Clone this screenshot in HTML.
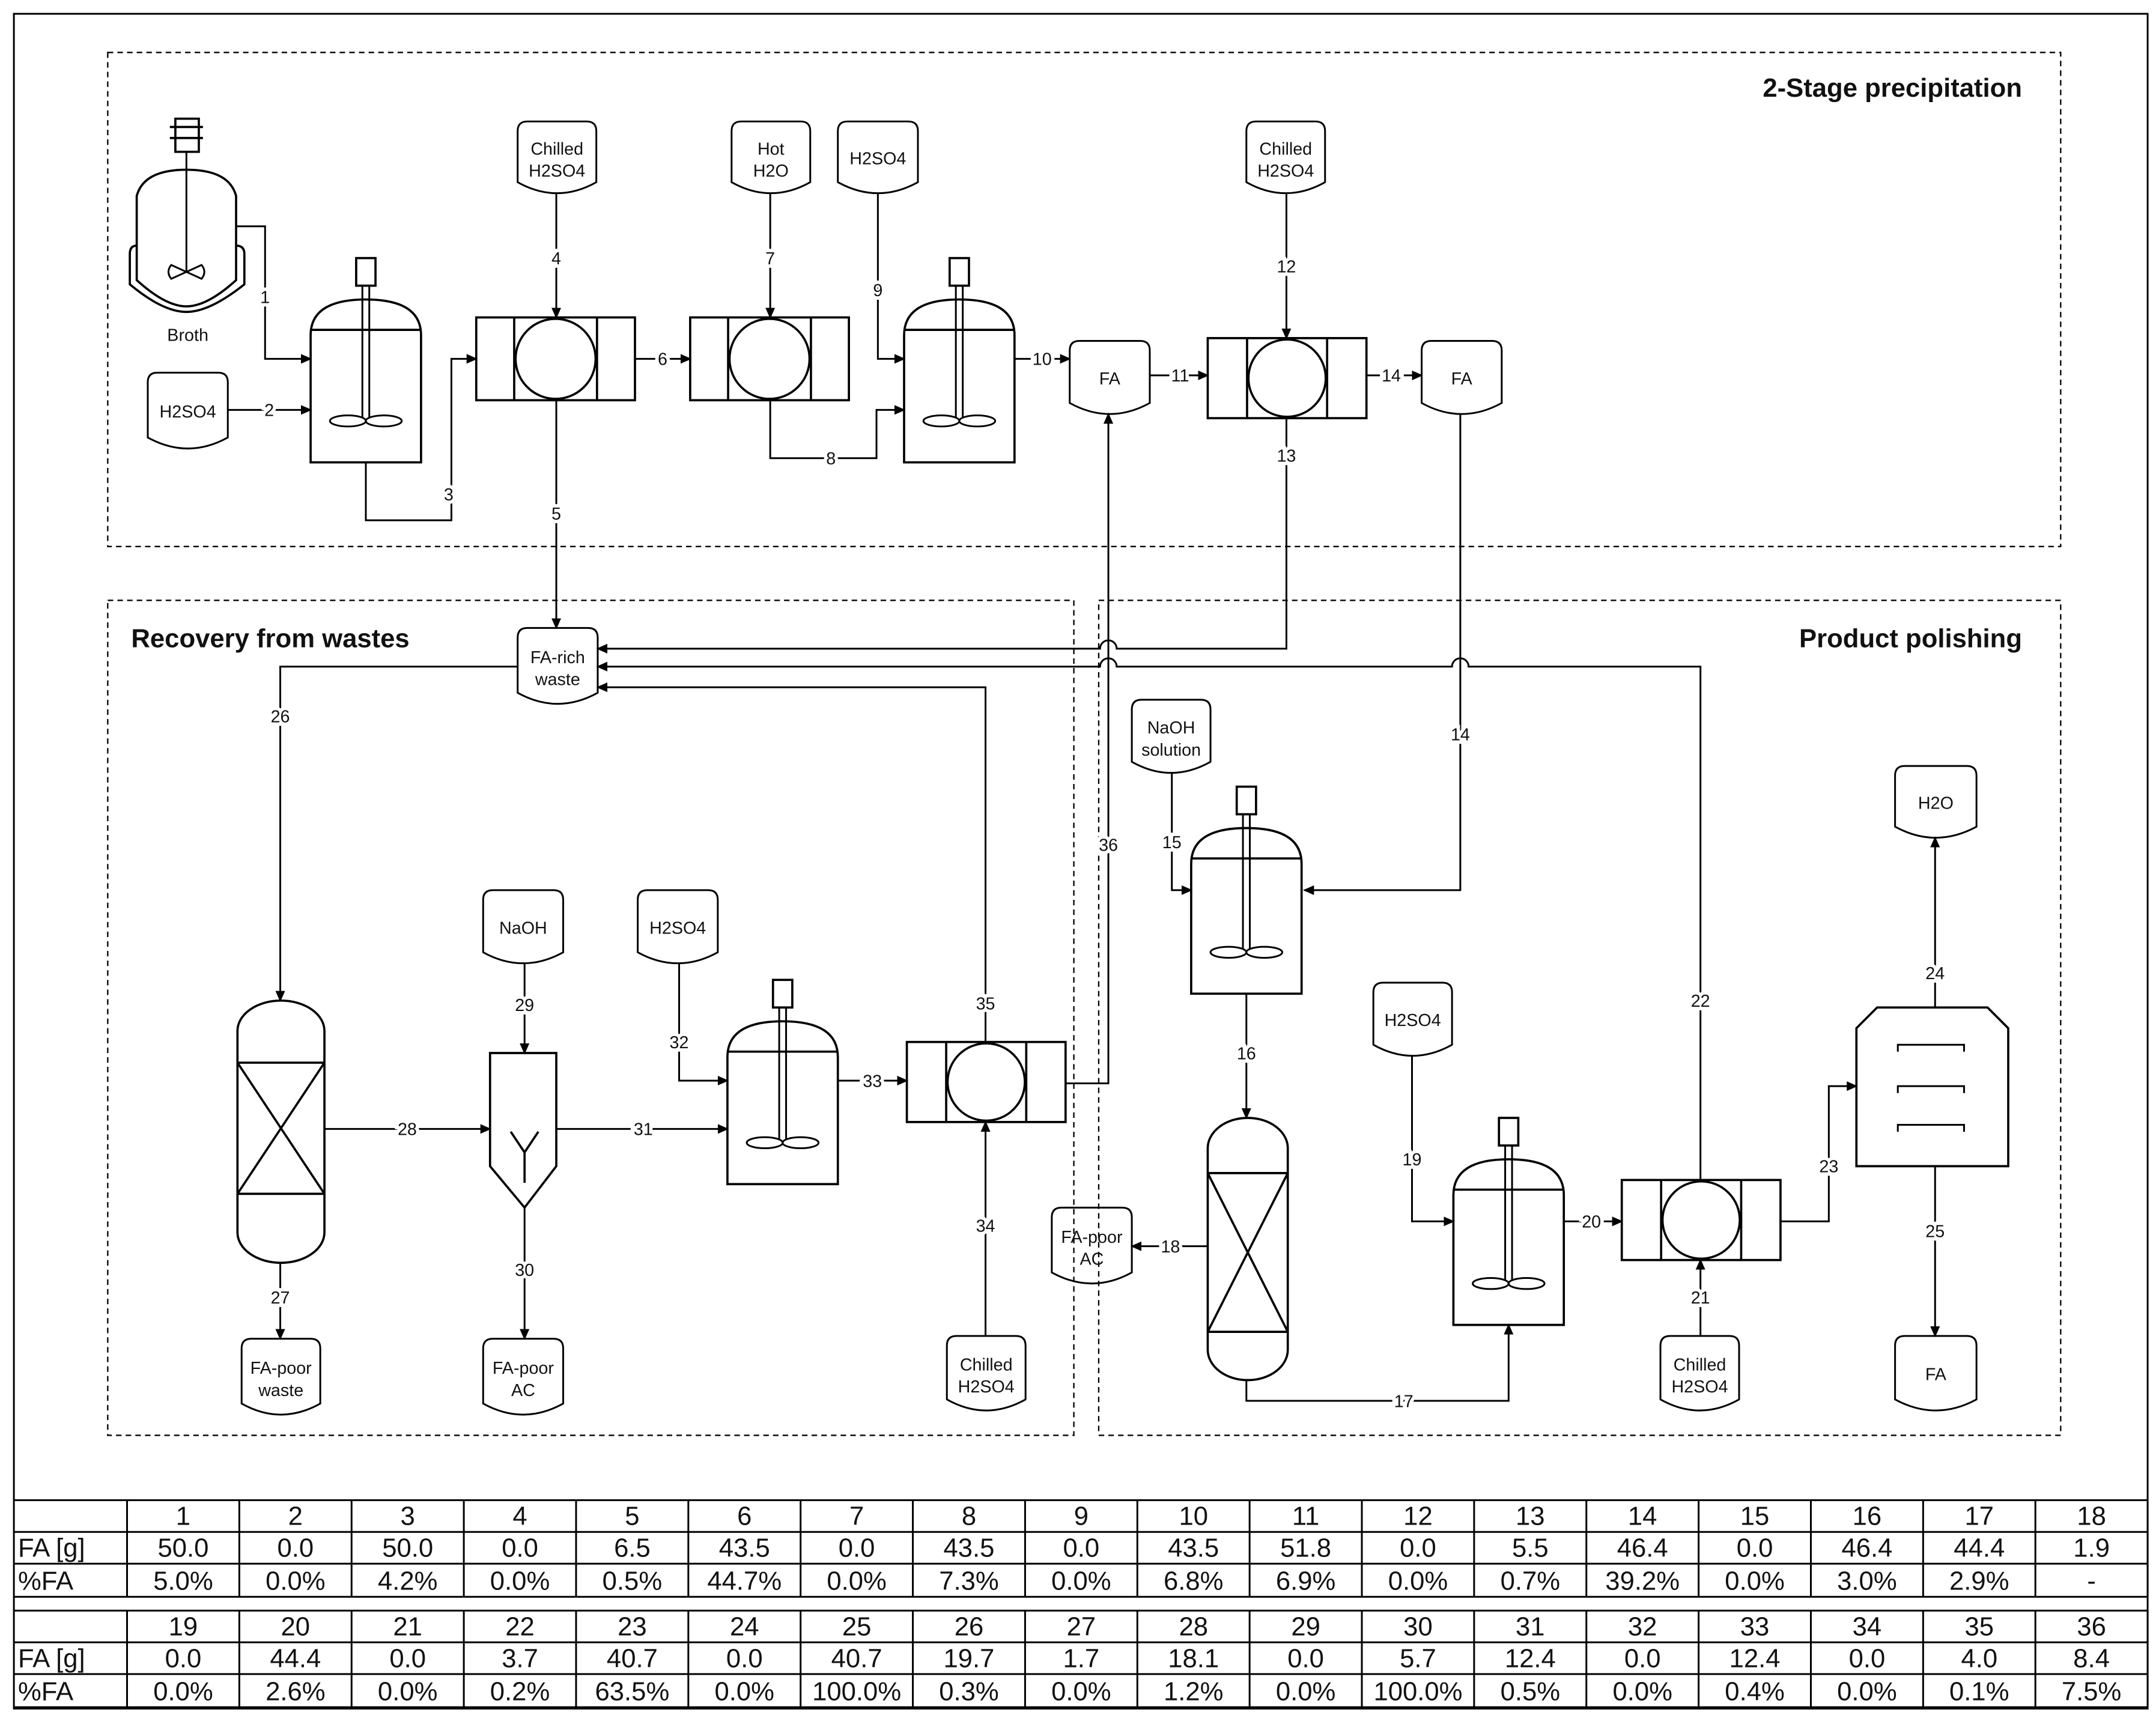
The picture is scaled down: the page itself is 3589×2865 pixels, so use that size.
<!DOCTYPE html>
<html><head><meta charset="utf-8"><style>
html,body{margin:0;padding:0;background:#fff;}
svg{display:block;}
text{font-family:"Liberation Sans",Arial,sans-serif;fill:#111;}
</style></head><body>
<svg id="s" width="3589" height="2865" viewBox="0 0 1562 1247" xmlns="http://www.w3.org/2000/svg">
<defs><marker id="a" markerWidth="8" markerHeight="8" refX="7" refY="4" orient="auto" markerUnits="userSpaceOnUse"><path d="M0,0.5 L8,4 L0,7.5 Z" fill="#000"/></marker></defs>
<rect x="10" y="10" width="1546" height="1228" fill="none" stroke="#000" stroke-width="1.3"/>
<g fill="none" stroke="#000" stroke-width="1" stroke-dasharray="4,3">
<rect x="78" y="38" width="1415" height="358"/>
<rect x="78" y="435" width="700" height="605"/>
<rect x="796" y="435" width="697" height="605"/>
</g>
<g font-weight="bold" font-size="19">
<text x="1465" y="70" text-anchor="end">2-Stage precipitation</text>
<text x="95" y="469">Recovery from wastes</text>
<text x="1465" y="469" text-anchor="end">Product polishing</text>
</g>
<g id="g" fill="none" stroke="#000" stroke-width="1.6"></g>
<g id="t" font-size="12.5"></g>
<g id="tb"></g>
</svg>
<script>
var G=document.getElementById('g'),T=document.getElementById('t'),TB=document.getElementById('tb');
var NS='http://www.w3.org/2000/svg';
function el(p,tag,at,txt){var e=document.createElementNS(NS,tag);for(var k in at)e.setAttribute(k,at[k]);if(txt!==undefined)e.textContent=txt;p.appendChild(e);return e;}
function P(d,extra){var a={d:d};for(var k in extra)a[k]=extra[k];return el(G,'path',a);}
function ln(pts,arrow){var d='M'+pts.map(function(p){return p[0]+','+p[1];}).join(' L');var a={d:d,'stroke-width':1.3};if(arrow)a['marker-end']='url(#a)';return P(d,a);}
function lab(x,y,s){el(T,'text',{x:x,y:y+4.5,'text-anchor':'middle',stroke:'#fff','stroke-width':5,'paint-order':'stroke'},s);}
function txt(x,y,s,fs){el(T,'text',{x:x,y:y,'text-anchor':'middle','font-size':fs||12.5},s);}
function tag(x,y,w,h,l1,l2){P('M'+x+','+(y+7)+' Q'+x+','+y+' '+(x+7)+','+y+' H'+(x+w-7)+' Q'+(x+w)+','+y+' '+(x+w)+','+(y+7)+' V'+(y+h-8)+' Q'+(x+w/2)+','+(y+h+8)+' '+x+','+(y+h-8)+' Z',{'stroke-width':1.3});
 var cx=x+w/2,cy=y+h/2;if(l2){txt(cx,cy-2,l1);txt(cx,cy+14,l2);}else txt(cx,cy+5,l1);}
function tank(x,y,w,h){var cx=x+w/2;
 P('M'+x+','+(y+18)+' Q'+x+','+(y-8)+' '+cx+','+(y-8)+' Q'+(x+w)+','+(y-8)+' '+(x+w)+','+(y+18)+' V'+(y+h)+' H'+x+' Z');
 P('M'+x+','+(y+14)+' H'+(x+w),{'stroke-width':1.6});
 el(G,'rect',{x:cx-7,y:y-38,width:14,height:20});
 P('M'+(cx-2.5)+','+(y-18)+' V'+(y+h-32)+' M'+(cx+2.5)+','+(y-18)+' V'+(y+h-32),{'stroke-width':1.3});
 el(G,'ellipse',{cx:cx-13,cy:y+h-30,rx:13,ry:4,'stroke-width':1.3});el(G,'ellipse',{cx:cx+13,cy:y+h-30,rx:13,ry:4,'stroke-width':1.3});}
function filt(x,y,w,h){el(G,'rect',{x:x,y:y,width:w,height:h});var r=h/2;var cx=x+w/2;
 P('M'+(cx-r)+','+y+' V'+(y+h)+' M'+(cx+r)+','+y+' V'+(y+h));el(G,'circle',{cx:cx,cy:y+h/2,r:r-1});}
function col(x,y,w,h,bx1,bx2){var r=22;P('M'+x+','+(y+r)+' A'+(w/2)+','+r+' 0 0 1 '+(x+w)+','+(y+r)+' V'+(y+h-r)+' A'+(w/2)+','+r+' 0 0 1 '+x+','+(y+h-r)+' Z');
 P('M'+x+','+bx1+' H'+(x+w)+' M'+x+','+bx2+' H'+(x+w)+' M'+x+','+bx1+' L'+(x+w)+','+bx2+' M'+(x+w)+','+bx1+' L'+x+','+bx2);}
// fermenter
P('M99,142 Q104,123 135,123 Q166,123 171,142 V203 Q150,222 135,222 Q120,222 99,203 Z');
P('M99,178 Q94,178 94,184 V206 Q118,226 135,226 Q152,226 177,206 V184 Q177,178 171,178');
el(G,'rect',{x:127,y:86,width:17,height:24});P('M123,92 H147 M123,100 H147');P('M135,110 V197',{'stroke-width':1.3});
P('M135,197 L124,192 Q120,197 124,202 Z M135,197 L146,192 Q150,197 146,202 Z',{'stroke-width':1.3});
txt(136,247,'Broth');
// top
tank(225,225,80,110);tank(655,225,80,110);
filt(345,230,115,60);filt(500,230,115,60);filt(875,245,115,58);
tag(107,270,58,55,'H2SO4');tag(375,88,57,52,'Chilled','H2SO4');tag(530,88,57,52,'Hot','H2O');tag(607,88,58,52,'H2SO4');
tag(903,88,57,52,'Chilled','H2SO4');tag(775,247,58,53,'FA');tag(1030,247,58,53,'FA');
ln([[171,164],[192,164],[192,260],[225,260]],1);lab(192,215,'1');
ln([[165,297],[225,297]],1);lab(195,297,'2');
ln([[265,335],[265,377],[327,377],[327,260],[345,260]],1);lab(325,358,'3');
ln([[403,140],[403,230]],1);lab(403,187,'4');
ln([[403,290],[403,455]],1);lab(403,372,'5');
ln([[460,260],[500,260]],1);lab(480,260,'6');
ln([[558,140],[558,230]],1);lab(558,187,'7');
ln([[558,290],[558,332],[635,332],[635,297],[655,297]],1);lab(602,332,'8');
ln([[636,140],[636,260],[655,260]],1);lab(636,210,'9');
ln([[735,260],[775,260]],1);lab(755,260,'10');
ln([[833,272],[875,272]],1);lab(855,272,'11');
ln([[932,140],[932,245]],1);lab(932,193,'12');
ln([[990,272],[1030,272]],1);lab(1008,272,'14');
P('M932,303 V470 H809 A6,6 0 0 0 797,470 H433',{'stroke-width':1.3,'marker-end':'url(#a)'});lab(932,330,'13');
P('M1232,855 V483 H1064 A6,6 0 0 0 1052,483 H809 A6,6 0 0 0 797,483 H433',{'stroke-width':1.3,'marker-end':'url(#a)'});lab(1232,725,'22');
ln([[1058,300],[1058,645],[945,645]],1);lab(1058,532,'14');
ln([[772,785],[803,785],[803,300]],1);lab(803,612,'36');
ln([[714,755],[714,498],[433,498]],1);lab(714,727,'35');
// recovery
tag(375,455,58,55,'FA-rich','waste');
ln([[375,483],[203,483],[203,725]],1);lab(203,519,'26');
col(172,725,63,190,770,865);
ln([[203,915],[203,970]],1);lab(203,940,'27');tag(175,970,57,55,'FA-poor','waste');
ln([[235,818],[355,818]],1);lab(295,818,'28');
P('M355,763 H403 V845 L380,875 L355,845 Z');P('M380,857 V835 M380,835 L370,820 M380,835 L390,820');
tag(350,645,58,53,'NaOH');ln([[380,698],[380,763]],1);lab(380,728,'29');
ln([[380,875],[380,970]],1);lab(380,920,'30');tag(350,970,58,55,'FA-poor','AC');
ln([[403,818],[527,818]],1);lab(466,818,'31');
tag(462,645,58,53,'H2SO4');ln([[492,698],[492,783],[527,783]],1);lab(492,755,'32');
tank(527,748,80,110);
ln([[607,783],[657,783]],1);lab(632,783,'33');
filt(657,755,115,58);
tag(686,968,57,54,'Chilled','H2SO4');ln([[714,968],[714,813]],1);lab(714,888,'34');
// polishing
tag(820,507,57,53,'NaOH','solution');ln([[849,560],[849,645],[863,645]],1);lab(849,610,'15');
tank(863,608,80,112);
ln([[903,720],[903,810]],1);lab(903,763,'16');
col(875,810,58,190,850,965);
ln([[875,903],[820,903]],1);lab(848,903,'18');tag(762,875,58,55,'FA-poor','AC');
ln([[903,1000],[903,1015],[1093,1015],[1093,960]],1);lab(1017,1015,'17');
tag(995,712,57,53,'H2SO4');ln([[1023,765],[1023,885],[1053,885]],1);lab(1023,840,'19');
tank(1053,848,80,112);
ln([[1133,885],[1175,885]],1);lab(1153,885,'20');
filt(1175,855,115,58);
tag(1203,968,57,54,'Chilled','H2SO4');ln([[1232,968],[1232,913]],1);lab(1232,940,'21');
ln([[1290,885],[1325,885],[1325,787],[1345,787]],1);lab(1325,845,'23');
P('M1345,745 L1360,730 H1440 L1455,745 V845 H1345 Z');
[757,787,815].forEach(function(y){P('M1375,'+(y+5)+' V'+y+' H1423 V'+(y+5),{'stroke-width':1.3});});
ln([[1402,730],[1402,607]],1);lab(1402,705,'24');tag(1373,555,59,52,'H2O');
ln([[1402,845],[1402,968]],1);lab(1402,892,'25');tag(1373,968,59,54,'FA');
// table
var fa1='50.0 0.0 50.0 0.0 6.5 43.5 0.0 43.5 0.0 43.5 51.8 0.0 5.5 46.4 0.0 46.4 44.4 1.9'.split(' ');
var pc1='5.0% 0.0% 4.2% 0.0% 0.5% 44.7% 0.0% 7.3% 0.0% 6.8% 6.9% 0.0% 0.7% 39.2% 0.0% 3.0% 2.9% -'.split(' ');
var fa2='0.0 44.4 0.0 3.7 40.7 0.0 40.7 19.7 1.7 18.1 0.0 5.7 12.4 0.0 12.4 0.0 4.0 8.4'.split(' ');
var pc2='0.0% 2.6% 0.0% 0.2% 63.5% 0.0% 100.0% 0.3% 0.0% 1.2% 0.0% 100.0% 0.5% 0.0% 0.4% 0.0% 0.1% 7.5%'.split(' ');
function block(y0,off,fa,pc){var ys=[y0,y0+23,y0+46,y0+70];
 ys.forEach(function(y){el(TB,'line',{x1:10,x2:1556,y1:y,y2:y,stroke:'#000','stroke-width':1.3});});
 var cw=(1556-92)/18;
 for(var i=0;i<=18;i++){var x=92+i*cw;el(TB,'line',{x1:x,x2:x,y1:y0,y2:y0+70,stroke:'#000','stroke-width':1.3});}
 el(TB,'text',{x:13,y:y0+41,'font-size':19},'FA [g]');el(TB,'text',{x:13,y:y0+65,'font-size':19},'%FA');
 for(var i=0;i<18;i++){var cx=92+(i+.5)*cw;
  el(TB,'text',{x:cx,y:y0+18,'text-anchor':'middle','font-size':19},String(off+i+1));
  el(TB,'text',{x:cx,y:y0+41,'text-anchor':'middle','font-size':19},fa[i]);
  el(TB,'text',{x:cx,y:y0+65,'text-anchor':'middle','font-size':19},pc[i]);}}
block(1087,0,fa1,pc1);block(1167,18,fa2,pc2);
</script>
</body></html>
